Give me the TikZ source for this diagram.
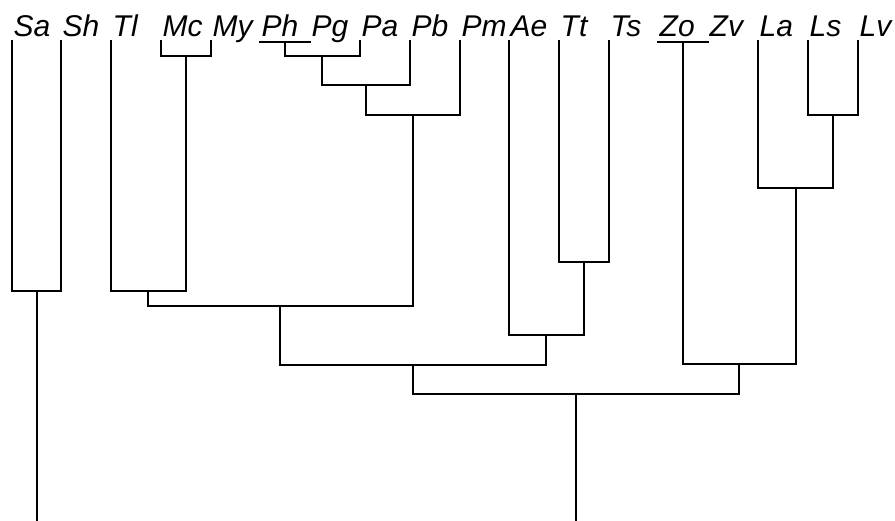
\documentclass[tikz,border=0pt]{standalone}
\usepackage{fontspec}
\setmainfont{Liberation Sans}
\begin{document}
\begin{tikzpicture}[x=1pt,y=-1pt,
  branch/.style={draw=black,line width=1.4pt,line cap=rect},
  lab/.style={anchor=base west,inner sep=0pt,font=\fontsize{30}{30}\selectfont\itshape}]
\useasboundingbox[fill=white] (0,0) rectangle (895,520);
% leaf tips
\foreach \n/\x/\y in {Sa/12/41,Sh/61/41,Tl/111/41,Mc/161/41,My/211/41,Ph/260/42,Pg/310/42,Pa/360/41,Pb/410/41,Pm/460/41,Ae/509/41,Tt/559/41,Ts/609/41,Zo/658/42,Zv/708/42,La/758/41,Ls/808/41,Lv/858/41}{
  \coordinate (\n) at (\x,\y);
  \node[lab] (l\n) at (\x+1.5,36.5) {\n};
}
% internal nodes
\coordinate (SaSh) at (37,291);
\coordinate (McMy) at (186,56);
\coordinate (TlMc) at (148,291);
\coordinate (PhPg) at (285,42);
\coordinate (PhPa) at (322,56);
\coordinate (PhPb) at (366,85);
\coordinate (PhPm) at (413,115);
\coordinate (TlPm) at (280,306);
\coordinate (TtTs) at (584,262);
\coordinate (AeTs) at (546,335);
\coordinate (TlTs) at (413,365);
\coordinate (ZoZv) at (683,42);
\coordinate (LsLv) at (833,115);
\coordinate (LaLv) at (796,188);
\coordinate (ZoLv) at (739,364);
\coordinate (root) at (576,394);
\coordinate (bottom) at (0,520);
% brackets
\foreach \a/\n/\b in {Sa/SaSh/Sh,Mc/McMy/My,Tl/TlMc/McMy,Ph/PhPg/Pg,PhPg/PhPa/Pa,PhPa/PhPb/Pb,PhPb/PhPm/Pm,TlMc/TlPm/PhPm,Tt/TtTs/Ts,Ae/AeTs/TtTs,TlPm/TlTs/AeTs,Zo/ZoZv/Zv,Ls/LsLv/Lv,La/LaLv/LsLv,ZoZv/ZoLv/LaLv,TlTs/root/ZoLv}{
  \draw[branch] (\a) |- (\n) -| (\b);
}
\draw[branch] (SaSh) -- (SaSh |- bottom);
\draw[branch] (root) -- (root |- bottom);
\end{tikzpicture}
\end{document}
